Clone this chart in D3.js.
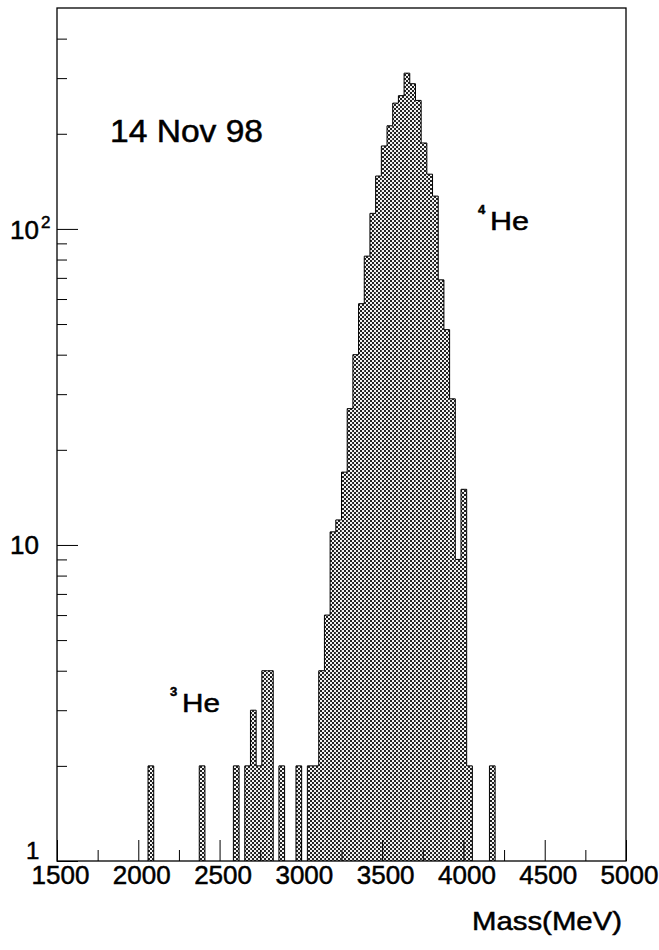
<!DOCTYPE html>
<html>
<head>
<meta charset="utf-8">
<script src="https://cdn.jsdelivr.net/npm/d3@7"></script>
<style>
  body { margin: 0; background: #fff; }
  text { font-family: "Liberation Sans", Arial, Helvetica, sans-serif; fill: #000; stroke: #000; stroke-width: 0.5px; }
</style>
</head>
<body>
<svg id="chart" width="659" height="950"></svg>
<script>
// histogram data: lower bin edge (MeV) and entries, empty bins left out
const binWidth = 35;
const massLow = [2060, 2375, 2585, 2655, 2690, 2725, 2760, 2795, 2865, 2970,
    3040, 3075, 3110, 3145, 3180, 3215, 3250, 3285, 3320, 3355,
    3390, 3425, 3460, 3495, 3530, 3565, 3600, 3635, 3670, 3705,
    3740, 3775, 3810, 3845, 3880, 3915, 3950, 3985, 4020, 4160];
const counts = [2, 2, 2, 2, 3, 2, 4, 4, 2, 2,
    2, 2, 4, 6, 11, 12, 17, 27, 40, 58,
    82, 112, 147, 183, 212, 250, 264, 311, 288, 255,
    187, 149, 127, 69, 48, 29, 9, 15, 2, 2];

const xMajor = [1500, 2000, 2500, 3000, 3500, 4000, 4500, 5000];
const xMinor = [1750, 2250, 2750, 3250, 3750, 4250, 4750];
const yMajor = [1, 10, 100];
const yMinor = [2, 3, 4, 5, 6, 7, 8, 9, 20, 30, 40, 50, 60, 70, 80, 90, 200, 300, 400];

const data = massLow.map((m, i) => ({ lo: m, hi: m + binWidth, n: counts[i] }));

// dimensions
const margin = { top: 8, left: 57, right: 33, bottom: 89 };
const width = 659 - margin.left - margin.right;
const height = 950 - margin.top - margin.bottom;

const svg = d3.select('#chart');

const x = d3.scaleLinear().domain([1500, 5000]).range([margin.left, margin.left + width]);
const y = d3.scaleLog().domain([1, 500]).range([margin.top + height, margin.top]);

// hatch pattern like the PAW fill
const pat = svg.append('defs').append('pattern')
    .attr('id', 'hatch')
    .attr('patternUnits', 'userSpaceOnUse')
    .attr('width', 4)
    .attr('height', 4);
pat.append('rect').attr('width', 4).attr('height', 4).attr('fill', '#222');
pat.append('rect').attr('x', 0).attr('y', 0).attr('width', 2).attr('height', 2).attr('fill', '#f2f2f2');
pat.append('rect').attr('x', 2).attr('y', 2).attr('width', 2).attr('height', 2).attr('fill', '#f2f2f2');

// bars
svg.append('g')
    .selectAll('rect')
    .data(data)
    .enter()
    .append('rect')
    .attr('x', d => x(d.lo))
    .attr('y', d => y(d.n))
    .attr('width', d => x(d.hi) - x(d.lo))
    .attr('height', d => y(1) - y(d.n))
    .attr('fill', 'url(#hatch)');

// outline of the histogram
let path = '';
data.forEach((d, i) => {
    const prev = data[i - 1];
    if (!prev || prev.hi !== d.lo) {
        path += `M${x(d.lo)},${y(1)}`;
    }
    path += `L${x(d.lo)},${y(d.n)}L${x(d.hi)},${y(d.n)}`;
    const next = data[i + 1];
    if (!next || next.lo !== d.hi) {
        path += `L${x(d.hi)},${y(1)}`;
    }
});
svg.append('path')
    .attr('d', path)
    .attr('fill', 'none')
    .attr('stroke', '#000')
    .attr('stroke-width', 1);

// axes: ticks point inside
const xAxisMajor = svg.append('g')
    .attr('transform', `translate(0,${y(1)})`)
    .call(d3.axisBottom(x).tickValues(xMajor).tickSize(-21).tickPadding(26).tickFormat(d3.format('d')));
svg.append('g')
    .attr('transform', `translate(0,${y(1)})`)
    .call(d3.axisBottom(x).tickValues(xMinor).tickSize(-11).tickFormat(''));

xAxisMajor.selectAll('.tick text')
    .attr('dy', 0)
    .attr('y', 23)
    .attr('dx', 3)
    .style('font-size', '26px')
    .style('font-family', '"Liberation Sans", Arial, sans-serif');

svg.append('g')
    .attr('transform', `translate(${x(1500)},0)`)
    .call(d3.axisLeft(y).tickValues(yMajor).tickSize(-21).tickFormat(''));
svg.append('g')
    .attr('transform', `translate(${x(1500)},0)`)
    .call(d3.axisLeft(y).tickValues(yMinor).tickSize(-10).tickFormat(''));

svg.selectAll('.domain').remove();
svg.selectAll('.tick line').attr('stroke', '#000').attr('stroke-width', 1);

// y labels
svg.append('text').attr('x', 26).attr('y', y(1) - 2).style('font-size', '24px').text('1');
svg.append('text').attr('x', 10).attr('y', y(10) + 9).style('font-size', '26px').text('10');
const t100 = svg.append('text').attr('x', 10).attr('y', y(100) + 10).style('font-size', '26px');
t100.append('tspan').text('10');
t100.append('tspan').attr('dx', 2).attr('dy', -11).style('font-size', '17px').text('2');

// frame
svg.append('rect')
    .attr('x', x(1500))
    .attr('y', y(500))
    .attr('width', x(5000) - x(1500))
    .attr('height', y(1) - y(500))
    .attr('fill', 'none')
    .attr('stroke', '#000')
    .attr('stroke-width', 1.3);

// annotations
svg.append('text')
    .attr('x', 110).attr('y', 142)
    .attr('textLength', 153).attr('lengthAdjust', 'spacingAndGlyphs')
    .style('font-size', '31px')
    .text('14 Nov 98');

svg.append('text').attr('x', 478).attr('y', 214).style('font-size', '13px').style('font-weight', 'bold').text('4');
svg.append('text').attr('x', 490).attr('y', 230)
    .attr('textLength', 39).attr('lengthAdjust', 'spacingAndGlyphs')
    .style('font-size', '26px').text('He');

svg.append('text').attr('x', 170).attr('y', 696).style('font-size', '13px').style('font-weight', 'bold').text('3');
svg.append('text').attr('x', 182).attr('y', 712)
    .attr('textLength', 38).attr('lengthAdjust', 'spacingAndGlyphs')
    .style('font-size', '26px').text('He');

svg.append('text')
    .attr('x', 622).attr('y', 930)
    .attr('text-anchor', 'end')
    .attr('textLength', 150).attr('lengthAdjust', 'spacingAndGlyphs')
    .style('font-size', '26px')
    .text('Mass(MeV)');
</script>
</body>
</html>
